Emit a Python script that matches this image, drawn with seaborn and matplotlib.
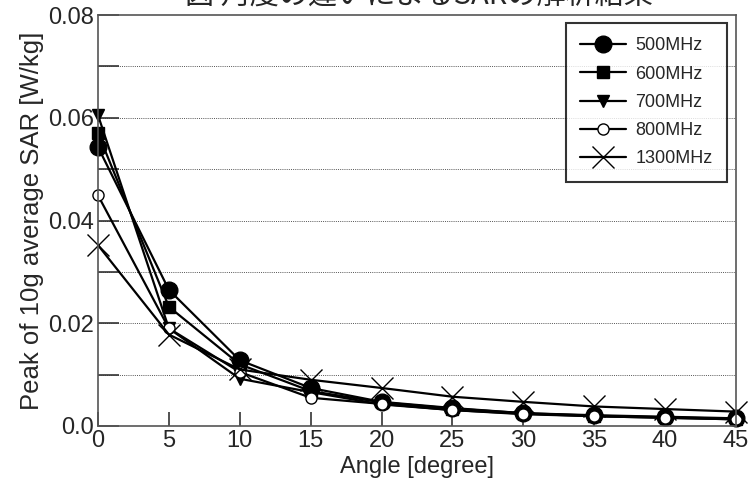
import matplotlib
matplotlib.use("Agg")
import matplotlib.pyplot as plt
import seaborn as sns
import pandas as pd
from matplotlib.ticker import MultipleLocator, FixedLocator

angles = [0, 5, 10, 15, 20, 25, 30, 35, 40, 45]
series_names = ["500MHz", "600MHz", "700MHz", "800MHz", "1300MHz"]
sar_500 = [0.0543, 0.0265, 0.0128, 0.0074, 0.0047, 0.0035, 0.0025, 0.0021, 0.0018, 0.0015]
sar_600 = [0.0570, 0.0232, 0.0120, 0.0068, 0.0046, 0.0034, 0.0025, 0.0020, 0.0017, 0.0014]
sar_700 = [0.0605, 0.0190, 0.0092, 0.0066, 0.0042, 0.0031, 0.0023, 0.0019, 0.0016, 0.0013]
sar_800 = [0.0449, 0.0190, 0.0105, 0.0055, 0.0043, 0.0031, 0.0024, 0.0019, 0.0016, 0.0013]
sar_1300 = [0.0352, 0.0178, 0.0110, 0.0090, 0.0074, 0.0057, 0.0047, 0.0038, 0.0033, 0.0028]
x_ticks = [0, 5, 10, 15, 20, 25, 30, 35, 40, 45]
y_tick_labels = ["0.0", "0.02", "0.04", "0.06", "0.08"]

sns.set_theme(style="white")
plt.rcParams["font.family"] = ["Liberation Sans", "Noto Sans CJK JP", "DejaVu Sans"]

values = [sar_500, sar_600, sar_700, sar_800, sar_1300]
df = pd.DataFrame({
    "angle": angles * len(series_names),
    "sar": [v for vals in values for v in vals],
    "freq": [n for n in series_names for _ in angles],
})

fig = plt.figure(figsize=(7.48, 4.97), dpi=100)
ax = fig.add_axes([98 / 748, 1 - 426 / 497, 638 / 748, 411 / 497])

markers = {"500MHz": "o", "600MHz": "s", "700MHz": "v", "800MHz": "o", "1300MHz": "x"}
sizes = {"500MHz": 12, "600MHz": 8, "700MHz": 8.5, "800MHz": 8, "1300MHz": 16}
faces = {"500MHz": "black", "600MHz": "black", "700MHz": "black", "800MHz": "white", "1300MHz": "black"}

for name in series_names:
    sub = df[df["freq"] == name]
    sns.lineplot(data=sub, x="angle", y="sar", color="black", linewidth=1.6,
                 marker=markers[name], markersize=sizes[name],
                 markerfacecolor=faces[name], markeredgecolor="black",
                 markeredgewidth=1.0, label=name, clip_on=False, ax=ax)

ax.set_xlim(0, 45)
ax.set_ylim(0, 0.08)
ax.xaxis.set_major_locator(FixedLocator(x_ticks))
ax.set_xticklabels([str(t) for t in x_ticks])
ax.yaxis.set_major_locator(FixedLocator([0, 0.02, 0.04, 0.06, 0.08]))
ax.set_yticklabels(y_tick_labels)
ax.yaxis.set_minor_locator(MultipleLocator(0.01))

ax.tick_params(axis="x", which="major", direction="in", length=10, width=1.2,
               color="#333333", labelsize=17, pad=3, bottom=True)
ax.tick_params(axis="y", which="major", direction="in", length=15, width=1.2,
               color="#333333", labelsize=17, pad=3, left=True)
ax.tick_params(axis="y", which="minor", direction="in", length=15, width=1.2,
               color="#333333", left=True)

for y in [0.01, 0.02, 0.03, 0.04, 0.05, 0.06, 0.07]:
    ax.axhline(y, color="#555555", linestyle=(0, (1, 1.2)), linewidth=0.7, zorder=0)

for s in ax.spines.values():
    s.set_color("#555555")
    s.set_linewidth(1.2)

ax.set_xlabel("Angle [degree]", fontsize=17, labelpad=3)
ax.set_ylabel("Peak of 10g average SAR [W/kg]", fontsize=18.5, labelpad=3)

leg = ax.legend(loc="upper right", bbox_to_anchor=(0.986, 0.9805), borderaxespad=0,
                fontsize=13, frameon=True, fancybox=False, edgecolor="black",
                handlelength=2.55, labelspacing=0.62, borderpad=0.8,
                handletextpad=0.5)
leg.get_frame().set_linewidth(1.5)

fig.text(0.56, 0.991, "図 角度の違いによるSARの解析結果", ha="center", va="baseline",
         fontsize=21, family=["Noto Sans CJK JP", "DejaVu Sans"])

fig.savefig("out.png", dpi=100)
